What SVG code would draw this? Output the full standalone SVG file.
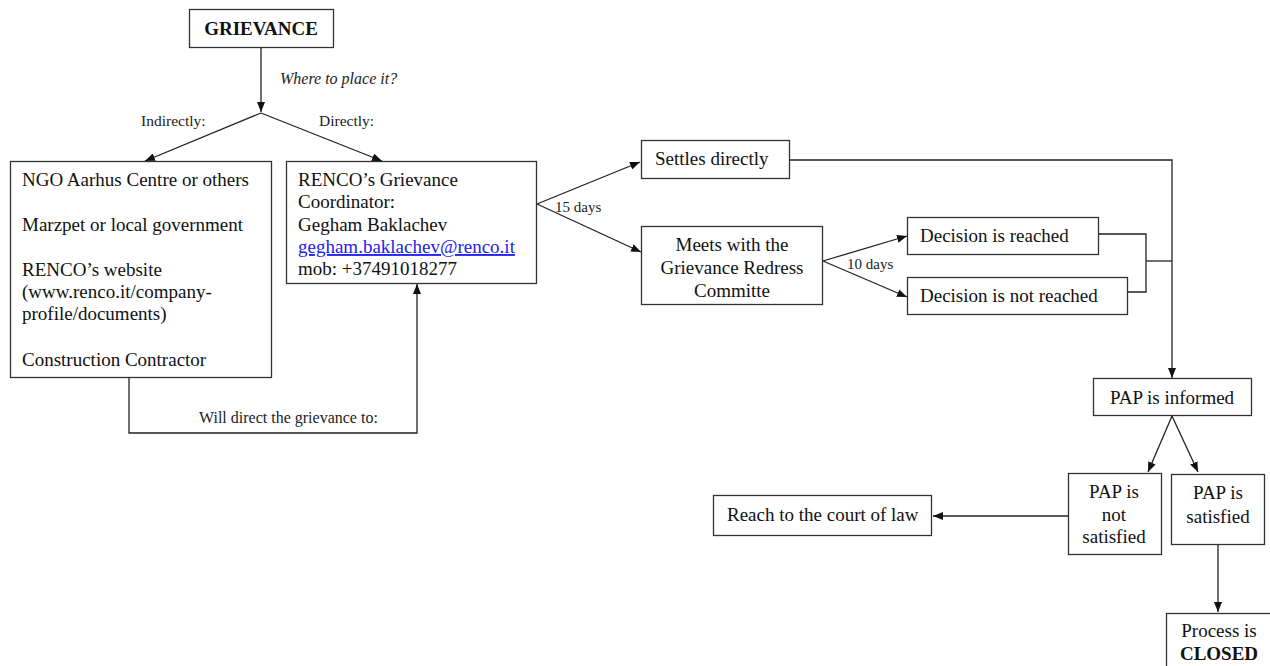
<svg xmlns="http://www.w3.org/2000/svg" width="1270" height="666" viewBox="0 0 1270 666">
<defs>
<marker id="ah" viewBox="0 0 10 8" refX="10" refY="4" markerWidth="10" markerHeight="8" markerUnits="userSpaceOnUse" orient="auto">
<path d="M0,0 L10,4 L0,8 z" fill="#111"/>
</marker>
<style>
.box{fill:#fff;stroke:#333;stroke-width:1.3}
.t{font-family:"Liberation Serif","Times New Roman",serif;font-size:19px;fill:#111}
.c{text-anchor:middle}
.b{font-weight:bold}
.s{font-family:"Liberation Serif","Times New Roman",serif;font-size:15px;fill:#222}
.i{font-style:italic;font-size:16px}
.m{font-size:16px}
.n{font-size:15.5px}
.ln{fill:none;stroke:#222;stroke-width:1.3}
.ar{marker-end:url(#ah)}
.lnk{fill:#2222ee;text-decoration:underline}
</style>
</defs>
<rect width="1270" height="666" fill="#fff"/>

<g id="connectors">
<path class="ln ar" d="M261,48 L261,112"/>
<path class="ln ar" d="M261,113 L145,161"/>
<path class="ln ar" d="M261,113 L382,161"/>
<path class="ln ar" d="M129,377 L129,433 L417,433 L417,284"/>
<path class="ln ar" d="M537,204 L640,162"/>
<path class="ln ar" d="M537,204 L641,252"/>
<path class="ln ar" d="M823,261 L907,236"/>
<path class="ln ar" d="M823,261 L907,297"/>
<path class="ln" d="M1099,234 L1146,234 L1146,292 L1128,292"/>
<path class="ln" d="M1146,261 L1172,261"/>
<path class="ln ar" d="M790,160 L1172,160 L1172,378"/>
<path class="ln ar" d="M1172,416 L1148,472"/>
<path class="ln ar" d="M1172,416 L1198,472"/>
<path class="ln ar" d="M1068,516 L933,516"/>
<path class="ln ar" d="M1218,544 L1218,612"/>
<text class="s i" x="280" y="84">Where to place it?</text>
<text class="s n" x="141" y="126">Indirectly:</text>
<text class="s n" x="319" y="126">Directly:</text>
<text class="s m" x="199" y="423">Will direct the grievance to:</text>
<text class="s" x="555" y="212">15 days</text>
<text class="s" x="847" y="269">10 days</text>
</g>

<g id="grievance">
<rect class="box" x="189.5" y="9.5" width="144" height="38"/>
<text class="t b c" x="261" y="35">GRIEVANCE</text>
</g>

<g id="indirect">
<rect class="box" x="10.5" y="161.5" width="261" height="216"/>
<text class="t" x="22" y="186">NGO Aarhus Centre or others</text>
<text class="t" x="22" y="231">Marzpet or local government</text>
<text class="t" x="22" y="276">RENCO’s website</text>
<text class="t" x="22" y="298">(www.renco.it/company-</text>
<text class="t" x="22" y="320">profile/documents)</text>
<text class="t" x="22" y="366">Construction Contractor</text>
</g>

<g id="coordinator">
<rect class="box" x="286.5" y="161.5" width="250" height="122"/>
<text class="t" x="298" y="186">RENCO’s Grievance</text>
<text class="t" x="298" y="208">Coordinator:</text>
<text class="t" x="298" y="231">Gegham Baklachev</text>
<text class="t lnk" x="298" y="253">gegham.baklachev@renco.it</text>
<text class="t" x="298" y="275">mob: +37491018277</text>
</g>

<g id="settles">
<rect class="box" x="641.5" y="140.5" width="148" height="38"/>
<text class="t" x="655" y="165">Settles directly</text>
</g>

<g id="meets">
<rect class="box" x="641.5" y="226.5" width="181" height="78"/>
<text class="t c" x="732" y="251">Meets with the</text>
<text class="t c" x="732" y="274">Grievance Redress</text>
<text class="t c" x="732" y="297">Committe</text>
</g>

<g id="reached">
<rect class="box" x="907.5" y="217.5" width="191" height="37"/>
<text class="t" x="920" y="242">Decision is reached</text>
</g>

<g id="notreached">
<rect class="box" x="907.5" y="277.5" width="220" height="37"/>
<text class="t" x="920" y="302">Decision is not reached</text>
</g>

<g id="informed">
<rect class="box" x="1093.5" y="378.5" width="158" height="37"/>
<text class="t c" x="1172" y="404">PAP is informed</text>
</g>

<g id="notsatisfied">
<rect class="box" x="1068.5" y="473.5" width="93" height="81"/>
<text class="t c" x="1114" y="498">PAP is</text>
<text class="t c" x="1114" y="521">not</text>
<text class="t c" x="1114" y="543">satisfied</text>
</g>

<g id="satisfied">
<rect class="box" x="1171.5" y="474.5" width="93" height="70"/>
<text class="t c" x="1218" y="499">PAP is</text>
<text class="t c" x="1218" y="523">satisfied</text>
</g>

<g id="court">
<rect class="box" x="713.5" y="495.5" width="218" height="40"/>
<text class="t" x="727" y="521">Reach to the court of law</text>
</g>

<g id="closed">
<rect class="box" x="1166.5" y="613.5" width="110" height="60"/>
<text class="t c" x="1219" y="637">Process is</text>
<text class="t b c" x="1219" y="660">CLOSED</text>
</g>
</svg>
